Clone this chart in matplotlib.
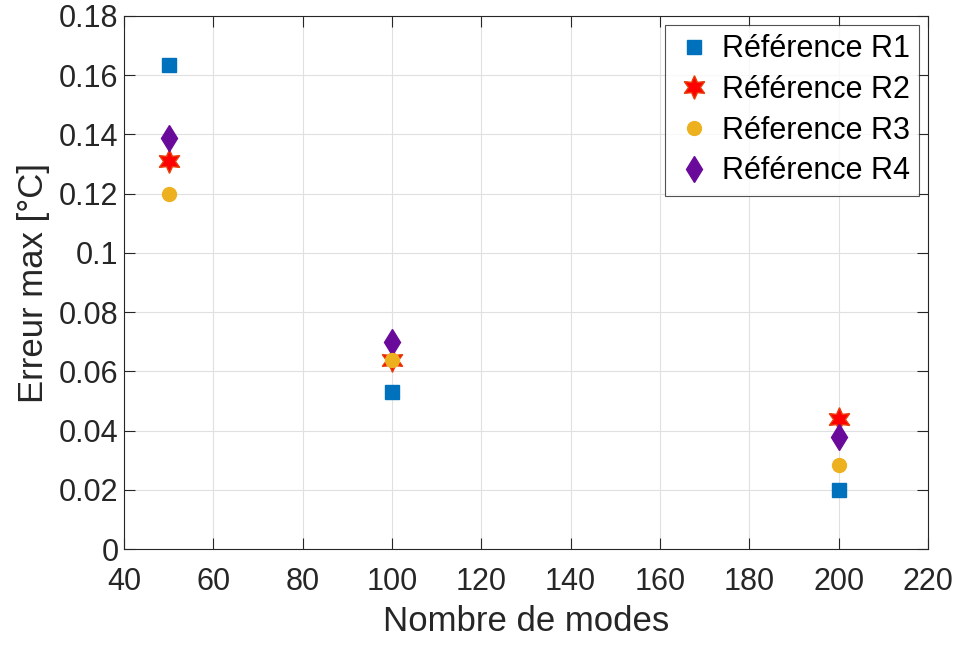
import matplotlib.pyplot as plt

plt.rcParams['font.family'] = ['Liberation Sans', 'DejaVu Sans']

modes = [50, 100, 200]
r1 = [0.1635, 0.053, 0.020]
r2 = [0.131, 0.0638, 0.0439]
r3 = [0.120, 0.0638, 0.0284]
r4 = [0.1388, 0.0699, 0.0378]

fig = plt.figure(figsize=(9.59, 6.45), dpi=100)
ax = fig.add_axes([0.1293, 0.1488, 0.8384, 0.8264])

hexagram = (6, 1, 0)
ax.plot(modes, r1, 's', color='#0072BD', ms=10, mec='#0072BD', label='Référence R1', zorder=3)
ax.plot(modes, r2, marker=hexagram, ls='none', color='#FF0000', ms=17, mec='#E8400A', mew=1,
        label='Référence R2', zorder=3)
ax.plot(modes, r3, 'o', color='#EDB120', ms=10, mec='#EDB120', label='Réference R3', zorder=4)
ax.plot(modes, r4, 'd', color='#6A0A9A', ms=13, mec='#6A0A9A', label='Référence R4', zorder=3)

ax.set_xlim(40, 220)
ax.set_ylim(0, 0.18)
ax.set_xticks(range(40, 221, 20))
ax.set_yticks([0, 0.02, 0.04, 0.06, 0.08, 0.1, 0.12, 0.14, 0.16, 0.18])
ax.set_yticklabels(['0', '0.02', '0.04', '0.06', '0.08', '0.1', '0.12', '0.14', '0.16', '0.18'])
ax.grid(True, color='#E0E0E0', lw=0.8)
ax.set_axisbelow(True)
ax.tick_params(direction='in', top=True, right=True, labelsize=22, length=8,
               color='#262626', labelcolor='#262626')
ax.tick_params(axis='x', pad=13)
ax.tick_params(axis='y', pad=4)
for s in ax.spines.values():
    s.set_color('#262626')
    s.set_linewidth(0.8)

ax.set_xlabel('Nombre de modes', fontsize=25, color='#262626', labelpad=6)
ax.set_ylabel('Erreur max [°C]', fontsize=25, color='#262626', labelpad=6)

leg = ax.legend(loc='upper right', fontsize=22, frameon=True, fancybox=False,
                edgecolor='#262626', handletextpad=0.25, borderaxespad=0.3,
                labelspacing=0.35, handlelength=1.3, borderpad=0.3)
leg.get_frame().set_linewidth(0.8)

fig.savefig('out.png', dpi=100)
